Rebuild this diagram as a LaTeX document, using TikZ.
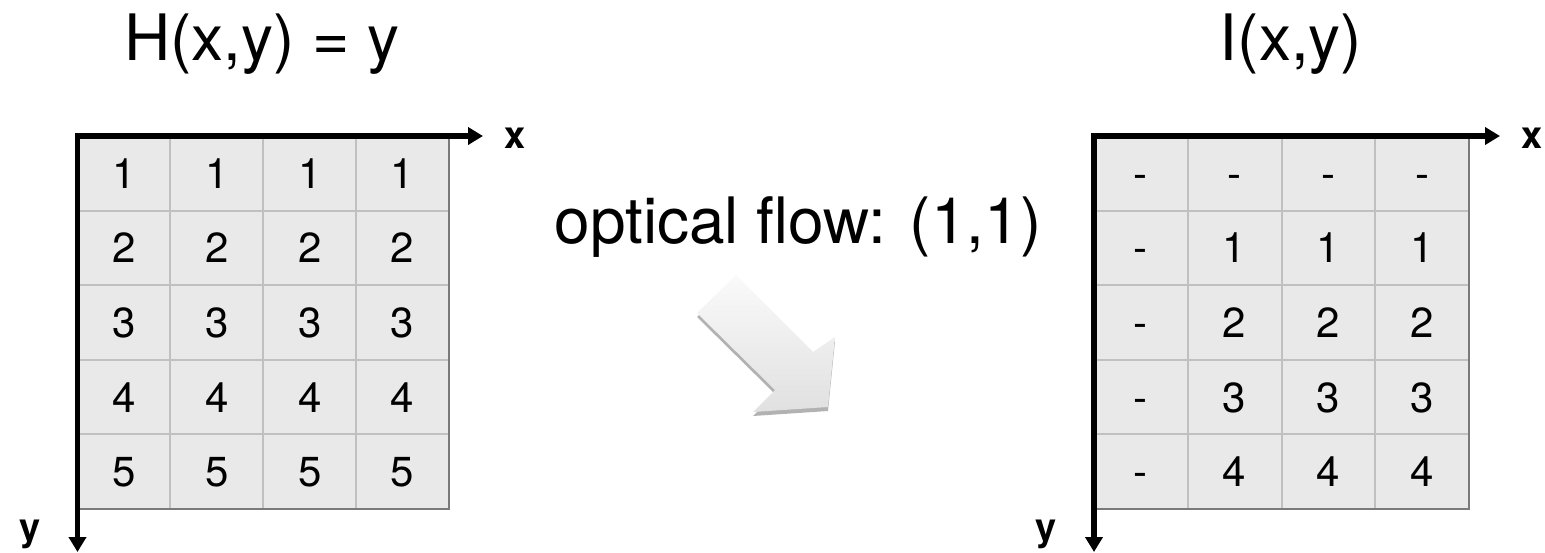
\documentclass[tikz,border=0pt]{standalone}
\usepackage{fontspec}
\setmainfont{TeX Gyre Heros}
\usetikzlibrary{arrows.meta,shadows}
\definecolor{cellfill}{HTML}{E9E9E9}
\definecolor{gridline}{HTML}{C0C0C0}
\definecolor{gridedge}{HTML}{7A7A7A}
\tikzset{
  axisline/.style={line width=2.6pt, -{Triangle[length=7.5pt,width=8.5pt]}},
  axislabel/.style={font=\fontsize{19}{19}\selectfont\bfseries, inner sep=0pt},
  celltext/.style={font=\fontsize{21}{21}\selectfont, anchor=base, inner sep=0pt},
  titletext/.style={font=\fontsize{32}{32}\selectfont, anchor=base, inner sep=0pt},
  innerline/.style={draw=gridline, line width=1pt},
  outerline/.style={draw=gridedge, line width=1.2pt},
  bigarrow/.style={top color=gray!4, bottom color=gray!24, draw=none,
    drop shadow={shadow xshift=0pt, shadow yshift=-2pt, opacity=0.3, fill=black}},
}
\begin{document}
\begin{tikzpicture}[x=0.5pt,y=-0.5pt]
\useasboundingbox (0,0) rectangle (1545,552);

% ---------- left grid ----------
\fill[cellfill] (77.5,136) rectangle (449,509);
\foreach \i in {1,2,3} \draw[innerline] ({77.5+\i*92.875},136) -- ({77.5+\i*92.875},509);
\foreach \j in {1,...,4} \draw[innerline] (77.5,{136+\j*74.6}) -- (449,{136+\j*74.6});
\draw[outerline] (77.5,509) -- (449,509) -- (449,136);
\foreach \r in {1,...,5}{\foreach \c in {1,...,4}{
  \node[celltext] (L-\r-\c) at ({77.5+(\c-0.5)*92.875},{136+(\r-0.5)*74.6+15}) {\r};
}}

% ---------- right grid ----------
\fill[cellfill] (1094,136) rectangle (1469,509);
\foreach \i in {1,2,3} \draw[innerline] ({1094+\i*93.75},136) -- ({1094+\i*93.75},509);
\foreach \j in {1,...,4} \draw[innerline] (1094,{136+\j*74.6}) -- (1469,{136+\j*74.6});
\draw[outerline] (1094,509) -- (1469,509) -- (1469,136);
\foreach \r in {1,...,5}{\foreach \c in {1,...,4}{
  \pgfmathtruncatemacro\vv{\r-1}
  \ifnum\r=1 \def\celltxt{-}\else\ifnum\c=1 \def\celltxt{-}\else\edef\celltxt{\vv}\fi\fi
  \node[celltext] (R-\r-\c) at ({1094+(\c-0.5)*93.75},{136+(\r-0.5)*74.6+15}) {\celltxt};
}}

% ---------- axes ----------
\coordinate (LXs) at (75,136);
\coordinate (LXe) at (483,136);
\coordinate (LYs) at (77.5,133);
\coordinate (LYe) at (77.5,552);
\draw[axisline] (LXs) -- (LXe);
\draw[axisline] (LYs) -- (LYe);
\node[axislabel] (lx) at (515,138) {x};
\node[axislabel, anchor=base] (ly) at (30,540) {y};

\coordinate (RXs) at (1091.5,136);
\coordinate (RXe) at (1500,136);
\coordinate (RYs) at (1094,133);
\coordinate (RYe) at (1094,552);
\draw[axisline] (RXs) -- (RXe);
\draw[axisline] (RYs) -- (RYe);
\node[axislabel] (rx) at (1532,138) {x};
\node[axislabel, anchor=base] (ry) at (1046,540) {y};

% ---------- titles ----------
\node[titletext] (H) at (262,60) {H(x,y) = y};
\node[titletext] (I) at (1291,60) {I(x,y)};
\node[titletext] (flow) at (798,243) {optical flow: (1,1)};

% ---------- 3D arrow ----------
\path[bigarrow] (697,313) -- (736,275) -- (813,352) -- (835,337) -- (828,407) -- (753,412) -- (775,390) -- cycle;
\end{tikzpicture}
\end{document}
